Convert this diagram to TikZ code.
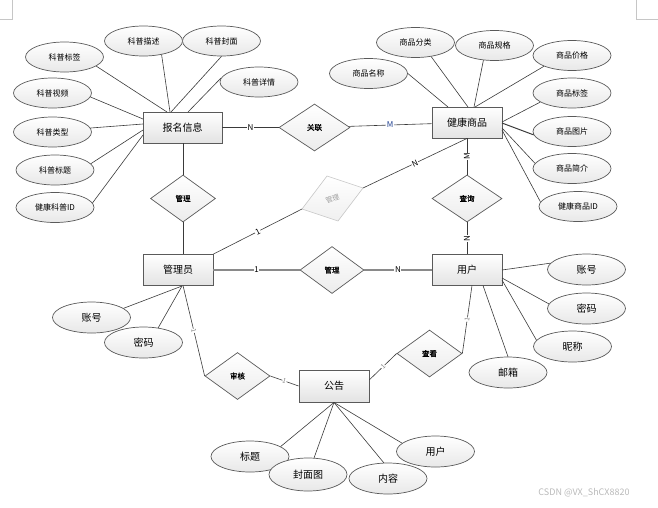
\documentclass[tikz,border=0pt]{standalone}
\usepackage{fontspec}
\setmainfont{Noto Sans CJK SC}
\newfontfamily\relfont[FakeBold=1.2]{Noto Sans CJK SC}
\usetikzlibrary{shapes.geometric,calc}
\definecolor{lnc}{HTML}{3A3A3A}
\definecolor{bdc}{HTML}{5A5A5A}
\definecolor{mainc}{HTML}{8A8A8A}
\definecolor{mblue}{HTML}{1F3F8F}
\begin{document}
\begin{tikzpicture}[x=1pt,y=-1pt,
  ent/.style={rectangle, draw=bdc, line width=0.9pt, top color=white, bottom color=gray!22, minimum width=70pt, minimum height=31pt, inner sep=0pt, font=\fontsize{10}{12}\selectfont},
  attr/.style={ellipse, draw=bdc, line width=0.7pt, top color=white, bottom color=gray!18, minimum width=78pt, minimum height=30pt, inner sep=0pt, font=\fontsize{8}{10}\selectfont},
  attrb/.style={attr, minimum height=31pt, font=\fontsize{10}{12}\selectfont},
  rel/.style={diamond, draw=bdc, line width=0.7pt, top color=white, bottom color=gray!15, minimum width=65pt, minimum height=47pt, inner sep=0pt, font=\relfont\fontsize{7.5}{9}\selectfont},
  ln/.style={draw=lnc, line width=0.6pt},
  mainln/.style={draw=mainc, line width=1.3pt},
  lbl/.style={fill=white, inner sep=0.6pt, font=\fontsize{8}{9}\selectfont},
  slbl/.style={fill=white, inner sep=0.3pt, text=gray, font=\fontsize{6.5}{7}\selectfont},
]
\useasboundingbox (0,0) rectangle (658,507);

% page corner marks
\draw[gray!45, line width=0.5pt] (12.5,0) -- (12.5,19) -- (0,19);
\draw[gray!45, line width=0.5pt] (636.5,0) -- (636.5,19) -- (658,19);

% entities
\node[ent, minimum width=79pt] (bm) at (182.5,127.5) {报名信息};
\node[ent] (jk) at (467,122.5) {健康商品};
\node[ent] (gly) at (178,270) {管理员};
\node[ent] (yh) at (467,270) {用户};
\node[ent, minimum height=32pt] (gg) at (334,386) {公告};

% relationships
\node[rel, minimum width=71pt] (gl) at (314.5,127.5) {关联};
\node[rel] (gm1) at (183,198.5) {管理};
\node[rel, minimum width=70pt] (cx) at (467,198.5) {查询};
\node[rel, minimum width=64pt] (gm2) at (332,270) {管理};
\node[rel] (sh) at (237.5,376) {审核};
\node[rel] (ck) at (429.5,353.5) {查看};

% greyed rotated relationship
\coordinate (g1) at (327,176);
\coordinate (g2) at (363,188);
\coordinate (g3) at (338,221);
\coordinate (g4) at (302,209);
\draw[draw=gray!45, line width=0.6pt, top color=white, bottom color=gray!12] (g1) -- (g2) -- (g3) -- (g4) -- cycle;
\node[text=gray!75, rotate=20, inner sep=0pt, font=\fontsize{7}{8}\selectfont] (glg) at (332.5,198.5) {管理};

% attributes of 报名信息
\node[attr] (kpbq) at (64.5,57) {科普标签};
\node[attr] (kpms) at (143.5,41) {科普描述};
\node[attr] (kpfm) at (221.5,41) {科普封面};
\node[attr] (kpxq) at (259,82) {科普详情};
\node[attr] (kpsp) at (52.5,93) {科普视频};
\node[attr] (kplx) at (52.5,132) {科普类型};
\node[attr] (kpbt) at (55,170) {科普标题};
\node[attr] (kpid) at (55,207.5) {健康科普ID};

% attributes of 健康商品
\node[attr] (spmc) at (368.5,73.5) {商品名称};
\node[attr] (spfl) at (415.5,42.5) {商品分类};
\node[attr] (spgg) at (494.5,45.5) {商品规格};
\node[attr] (spjg) at (572,55.5) {商品价格};
\node[attr] (spbq) at (572,93) {商品标签};
\node[attr] (sptp) at (572,131.5) {商品图片};
\node[attr] (spjj) at (572,168.5) {商品简介};
\node[attr] (spid) at (578,206.5) {健康商品ID};

% attributes of 用户
\node[attrb] (yzh) at (586.5,269.5) {账号};
\node[attrb] (ymm) at (586.5,308.5) {密码};
\node[attrb] (ync) at (572.5,346.5) {昵称};
\node[attrb] (yyx) at (508,372.5) {邮箱};

% attributes of 管理员
\node[attrb] (gzh) at (91.5,317.5) {账号};
\node[attrb] (gmm) at (143.5,342.5) {密码};

% attributes of 公告
\node[attrb] (gbt) at (250,456.5) {标题};
\node[attrb, minimum height=33pt] (gfm) at (308,474.5) {封面图};
\node[attrb] (gnr) at (388,478.5) {内容};
\node[attrb] (gyh) at (435.5,451.5) {用户};

% attachment points
\coordinate (b1) at (167,112);
\coordinate (b2) at (170,112);
\coordinate (b3) at (171,112);
\coordinate (b4) at (188,112);
\coordinate (b5) at (143,119);
\coordinate (b6) at (143,124);
\coordinate (b7) at (143,130);
\coordinate (b8) at (143,135);
\coordinate (j1) at (448,107);
\coordinate (j2) at (468,107);
\coordinate (j3) at (474,107);
\coordinate (j4) at (475,107);
\coordinate (j5) at (502,122);
\coordinate (j6) at (502,123);
\coordinate (j7) at (502,128);
\coordinate (j8) at (502,130);
\coordinate (u1) at (502,270);
\coordinate (u2) at (502,278);
\coordinate (u3) at (502,280);
\coordinate (u4) at (483,285.5);
\coordinate (a1) at (182,286);
\coordinate (glyb) at (183,285.5);
\coordinate (yhb) at (472,285.5);

% attribute connectors
\draw[ln] (kpbq.-16) -- (b1);
\draw[ln] (kpms.-37) -- (b2);
\draw[ln] (kpfm.-90) -- (b3);
\draw[ln] (kpxq.174) -- (b4);
\draw[ln] (kpsp.-6) -- (b5);
\draw[ln] (kplx.6) -- (b6);
\draw[ln] (kpbt.10) -- (b7);
\draw[ln] (kpid.7) -- (b8);

\draw[ln] (spmc.0) -- (j1);
\draw[ln] (spfl.-42) -- (j2);
\draw[ln] (spgg.-127) -- (j3);
\draw[ln] (spjg.-159) -- (j4);
\draw[ln] (spbq.-164) -- (j5);
\draw[ln, line width=1pt] (sptp.-175) -- (j6);
\draw[ln] (spjj.172) -- (j7);
\draw[ln] (spid.173) -- (j8);

\draw[ln] (yzh.170) -- (u1);
\draw[ln] (ymm.173) -- (u2);
\draw[ln] (ync.170) -- (u3);
\draw[ln] (yyx.90) -- (u4);

\draw[ln] (gzh.16) -- (a1);
\draw[ln] (gmm.45) -- (a1);

\draw[ln] (gbt.18) -- (gg.south);
\draw[ln] (gfm.70) -- (gg.south);
\draw[ln] (gnr.105) -- (gg.south);
\draw[ln] (gyh.166) -- (gg.south);

% relationship connectors
\draw[ln] (bm) -- node[lbl]{N} (gl);
\draw[ln] (gl) -- node[lbl, text=mblue]{M} (jk);
\draw[ln] (jk) -- node[lbl, rotate=90]{M} (cx);
\draw[ln] (cx) -- node[lbl, rotate=90]{N} (yh);
\draw[ln] (gm1.north) -- (gm1.north |- bm.south);
\draw[ln] (gm1.south) -- (gm1.south |- gly.north);
\draw[mainln] (gly) -- node[lbl]{1} (gm2);
\draw[mainln] (gm2) -- node[lbl]{N} (yh);
\draw[ln] (gly.north east) -- node[lbl, sloped]{1} (g4);
\draw[ln] (g2) -- node[lbl, sloped]{N} (jk.south);
\draw[ln] (glyb) -- node[slbl, sloped]{1} (sh.west);
\draw[ln] (sh.east) -- node[slbl, sloped]{1} (gg.west);
\draw[ln] (gg.10) -- node[slbl, sloped]{1} (ck.west);
\draw[ln] (ck.east) -- node[slbl, sloped]{1} (yhb);

% watermark
\node[text=gray!55, font=\fontsize{9}{10}\selectfont] (wm) at (584,493) {CSDN @VX\_ShCX8820};
\end{tikzpicture}
\end{document}
